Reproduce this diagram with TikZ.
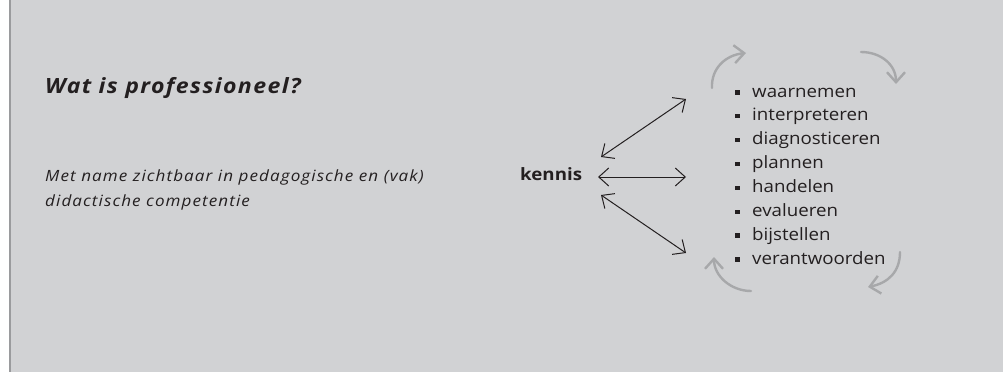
\documentclass[tikz,border=0pt]{standalone}
\usepackage{fontspec}
\setmainfont{Open Sans}[FakeStretch=1.1]
\usetikzlibrary{arrows.meta}
\definecolor{bg}{HTML}{D1D2D4}
\definecolor{ink}{HTML}{231F20}
\definecolor{cyc}{HTML}{A7A8AA}
\definecolor{edgecol}{HTML}{9A9B9D}
\begin{document}
\begin{tikzpicture}[x=1pt,y=-1pt,
 txt/.style={inner sep=0pt, anchor=base west, text=ink},
 dbl/.style={{Straight Barb[length=10pt,width=18pt]}-{Straight Barb[length=10pt,width=18pt]}, line width=1pt, draw=ink},
 cycarrow/.style={-{Straight Barb[length=10pt,width=18pt]}, line width=2.4pt, draw=cyc, line cap=round},
 itemfont/.style={font=\fontsize{17}{20}\selectfont},
 descfont/.style={font=\itshape\fontsize{15.5}{18}\selectfont\addfontfeatures{LetterSpace=7}},
]
\useasboundingbox (0,0) rectangle (1003,372);
\fill[white] (0,0) rectangle (10,372);
\fill[bg] (10,0) rectangle (1003,372);
\draw[edgecol, line width=2pt] (10,0) -- (10,372);

\node[txt, font=\bfseries\itshape\fontsize{21}{24}\selectfont\addfontfeatures{LetterSpace=6.6}] (title) at (45,93) {Wat is professioneel?};
\node[txt, descfont] (desc1) at (45,181) {Met name zichtbaar in pedagogische en (vak)};
\node[txt, descfont] (desc2) at (45,206) {didactische competentie};

\node[txt, font=\bfseries\fontsize{17}{20}\selectfont] (kennis) at (520,180) {kennis};

\coordinate (k1) at (601,157); \coordinate (t1) at (686,99);
\coordinate (k2) at (598,177); \coordinate (t2) at (686,177);
\coordinate (k3) at (601,195); \coordinate (t3) at (686,253);
\draw[dbl] (k1) -- (t1);
\draw[dbl] (k2) -- (t2);
\draw[dbl] (k3) -- (t3);

\foreach \w [count=\i] in {waarnemen,interpreteren,diagnosticeren,plannen,handelen,evalueren,bijstellen,verantwoorden} {
  \node[txt, itemfont] (item\i) at (752,{97+23.9*(\i-1)}) {\w};
  \fill[ink] (735,{97+23.9*(\i-1)-7}) rectangle ++(4.5,4.5);
}

\coordinate (a1) at (712,88);  \coordinate (b1) at (746,53);
\coordinate (a2) at (861,52);  \coordinate (b2) at (896,84);
\coordinate (a3) at (900,252); \coordinate (b3) at (868,287);
\coordinate (a4) at (751,291); \coordinate (b4) at (714,257);
\draw[cycarrow] (a1) .. controls (711,68) and (726,55) .. (b1);
\draw[cycarrow] (a2) .. controls (880,52) and (896,64) .. (b2);
\draw[cycarrow] (a3) .. controls (900,272) and (888,283) .. (b3);
\draw[cycarrow] (a4) .. controls (731,291) and (714,276) .. (b4);
\end{tikzpicture}
\end{document}
